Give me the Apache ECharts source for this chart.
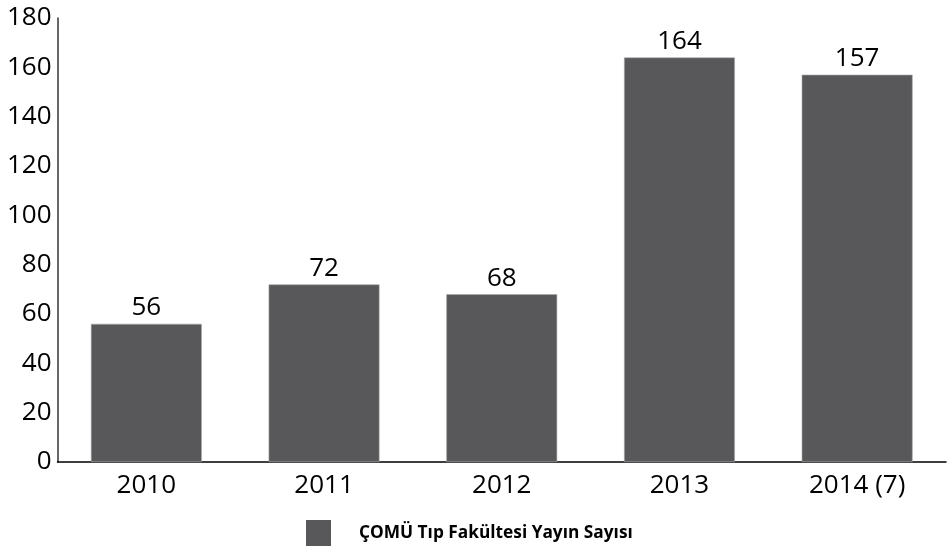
<!DOCTYPE html>
<html>
<head>
<meta charset="utf-8">
<script src="https://cdn.jsdelivr.net/npm/echarts@6/dist/echarts.min.js"></script>
<style>
  html, body { margin: 0; padding: 0; background: #fff; }
  #chart { width: 947px; height: 548px; }
</style>
</head>
<body>
<div id="chart"></div>
<script>
// Publication counts per year
const years = ['2010', '2011', '2012', '2013', '2014 (7)'];
const publications = [56, 72, 68, 164, 157];
const seriesName = 'ÇOMÜ Tıp Fakültesi Yayın Sayısı';
const yTicks = { min: 0, max: 180, step: 20 };

const chart = echarts.init(document.getElementById('chart'));
const font = '"Open Sans", "Noto Sans", sans-serif';

chart.setOption({
  animation: false,
  textStyle: { fontFamily: font },
  grid: { left: 57.5, right: 1, top: 18, bottom: 86, containLabel: false },
  legend: {
    data: [seriesName],
    left: 306,
    top: 520,
    padding: 0,
    itemWidth: 25,
    itemHeight: 26,
    icon: 'rect',
    itemStyle: { borderWidth: 0 },
    textStyle: {
      fontFamily: font,
      fontSize: 17.3,
      fontWeight: 'bold',
      color: '#000',
      padding: [0, 0, 0, 23]
    }
  },
  xAxis: {
    type: 'category',
    data: years,
    axisLine: { lineStyle: { color: '#000', width: 1.5 } },
    axisTick: { show: false },
    axisLabel: { color: '#000', fontSize: 26, margin: 11, fontFamily: font }
  },
  yAxis: {
    type: 'value',
    min: yTicks.min,
    max: yTicks.max,
    interval: yTicks.step,
    axisLine: { show: true, lineStyle: { color: '#333', width: 1.5 } },
    axisTick: { show: false },
    splitLine: { show: false },
    axisLabel: { color: '#000', fontSize: 26, margin: 6, fontFamily: font }
  },
  series: [{
    name: seriesName,
    type: 'bar',
    data: publications,
    barCategoryGap: '37.6%',
    itemStyle: { color: '#58585a', borderColor: '#a8a8aa', borderWidth: 0.6 },
    label: {
      show: true,
      position: 'top',
      distance: 3,
      color: '#000',
      fontSize: 26,
      fontFamily: font
    }
  }]
});
</script>
</body>
</html>
